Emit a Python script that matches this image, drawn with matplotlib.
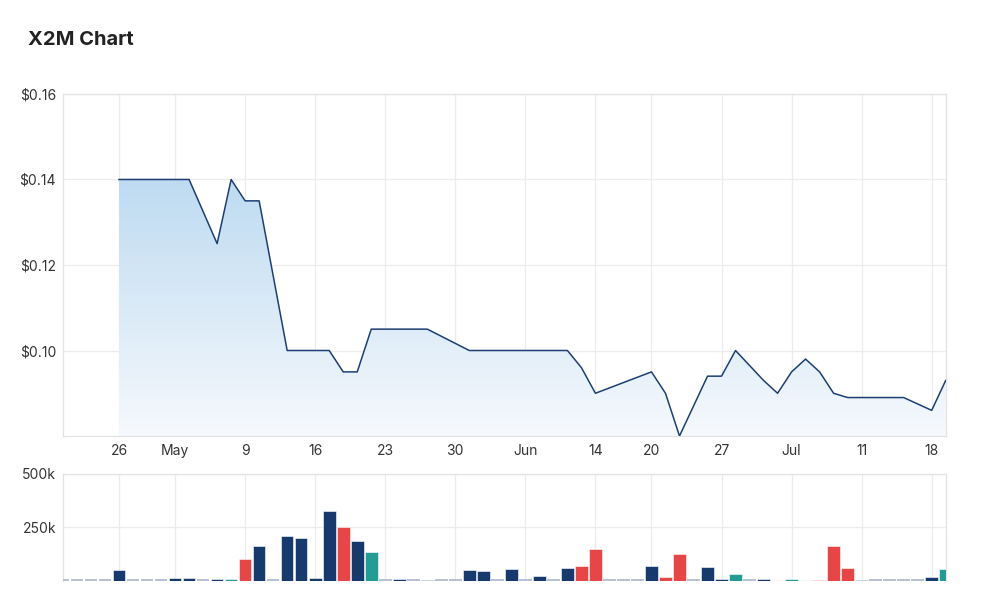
import matplotlib
matplotlib.use('Agg')
import matplotlib.pyplot as plt
import numpy as np
import pandas as pd
from matplotlib.colors import LinearSegmentedColormap
from matplotlib.patches import Polygon

plt.rcParams['font.family'] = ['Inter', 'DejaVu Sans']

# ---------------- data ----------------
trading_days = pd.bdate_range('2022-04-19', '2022-07-19')
holidays = pd.to_datetime(['2022-04-25', '2022-06-13'])
dates = trading_days.difference(holidays)

N = None
price = [N, N, N, N,
         0.14, 0.14, 0.14, 0.14, 0.14, 0.14, N, 0.125, 0.14, 0.135,
         0.135, N, 0.10, 0.10, 0.10, 0.10, 0.095, 0.095, 0.105, 0.105,
         0.105, 0.105, 0.105, N, N, 0.10, 0.10, 0.10, 0.10, 0.10,
         0.10, 0.10, 0.10, 0.096, 0.09, N, N, N, 0.095, 0.09,
         0.08, N, 0.094, 0.094, 0.10, N, 0.093, 0.09, 0.095, 0.098,
         0.095, 0.09, 0.089, 0.089, 0.089, 0.089, 0.089, N, 0.086, 0.093]

volume = [0, 0, 0, 0,
          52000, 0, 0, 0, 16000, 16000, 0, 11000, 11000, 105000,
          162000, 0, 212000, 203000, 16000, 329000, 253000, 189000, 134000, 0,
          11000, 0, 6000, 0, 0, 50000, 46000, 0, 57000, 0,
          25000, 0, 61000, 72000, 148000, 0, 0, 0, 72000, 20000,
          126000, 0, 66000, 11000, 35000, 0, 11000, 4000, 11000, 4000,
          6000, 162000, 61000, 6000, 0, 0, 0, 0, 20000, 57000]

bar_kind = ['z', 'z', 'z', 'z',
            'n', 'z', 'z', 'z', 'n', 'n', 'z', 'n', 't', 'r',
            'n', 'z', 'n', 'n', 'n', 'n', 'r', 'n', 't', 'z',
            'n', 'z', 'n', 'z', 'z', 'n', 'n', 'z', 'n', 'z',
            'n', 'z', 'n', 'r', 'r', 'z', 'z', 'z', 'n', 'r',
            'r', 'z', 'n', 'n', 't', 'z', 'n', 'p', 't', 'c',
            'r', 'r', 'r', 'n', 'z', 'z', 'z', 'z', 'n', 't']

tick_dates = ['2022-04-26', '2022-05-02', '2022-05-09', '2022-05-16', '2022-05-23',
              '2022-05-30', '2022-06-06', '2022-06-14', '2022-06-20', '2022-06-27',
              '2022-07-04', '2022-07-11', '2022-07-18']
tick_labels = ['26', 'May', '9', '16', '23', '30', 'Jun', '14', '20', '27', 'Jul', '11', '18']
price_ticks = [0.10, 0.12, 0.14, 0.16]
price_tick_labels = ['$0.10', '$0.12', '$0.14', '$0.16']
volume_ticks = [250000, 500000]
volume_tick_labels = ['250k', '500k']

# ---------------- style ----------------
kind_colors = {'n': '#163a6e', 'r': '#e84646', 't': '#239d93',
               'z': '#b9c2d4', 'p': '#f6c3c3', 'c': '#b4dedf'}
ZERO_STUB = 8000
LINE_COLOR = '#1e3f73'
GRID = '#ececec'
SPINE = '#e3e3e3'
TEXT = '#333333'

x = np.arange(len(dates))
p = np.array([np.nan if v is None else v for v in price], dtype=float)
vol = np.array(volume, dtype=float)
tick_pos = dates.get_indexer(pd.to_datetime(tick_dates))

fig = plt.figure(figsize=(10, 6.13), dpi=100)
ax = fig.add_axes([0.063, 0.2887, 0.8827, 0.558])
axv = fig.add_axes([0.063, 0.0522, 0.8827, 0.1746])

x0, x1 = 0, len(dates) - 1
# ---------------- price ----------------
valid = ~np.isnan(p)
xv, pv = x[valid], p[valid]

cmap = LinearSegmentedColormap.from_list('g', ['#f6f9fd', '#bedbf1'])
grad = np.linspace(0, 1, 256).reshape(-1, 1)
img = ax.imshow(grad, extent=[x0, x1, 0.08, 0.14], origin='lower', aspect='auto',
                cmap=cmap, zorder=1, interpolation='bilinear')
verts = [(xv[0], 0.08)] + list(zip(xv, pv)) + [(xv[-1], 0.08)]
poly = Polygon(verts, closed=True, facecolor='none', edgecolor='none',
               transform=ax.transData)
ax.add_patch(poly)
img.set_clip_path(poly)
ax.plot(xv, pv, color=LINE_COLOR, lw=1.1, zorder=3)
ax.set_xlim(x0, x1)
ax.set_ylim(0.08, 0.16)

ax.set_yticks(price_ticks)
ax.set_yticklabels(price_tick_labels)
ax.set_xticks(tick_pos)
ax.set_xticklabels(tick_labels)

# ---------------- volume ----------------
colors = np.array([kind_colors[k] for k in bar_kind])
zero = vol <= 0
axv.bar(x[zero], np.full(zero.sum(), ZERO_STUB), width=0.9, color=colors[zero],
        linewidth=0, zorder=3)
axv.bar(x[~zero], vol[~zero], width=0.9, color=colors[~zero], edgecolor='white',
        linewidth=0.4, zorder=3)
axv.set_xlim(x0, x1)
axv.set_ylim(0, 500000)
axv.set_yticks(volume_ticks)
axv.set_yticklabels(volume_tick_labels)
axv.set_xticks(tick_pos)
axv.set_xticklabels([])

for a in (ax, axv):
    a.grid(True, color=GRID, lw=0.9, zorder=0)
    a.set_axisbelow(True)
    a.tick_params(length=0, colors=TEXT, labelsize=10)
    a.tick_params(axis='y', pad=5)
    a.tick_params(axis='x', pad=6)
    for s in a.spines.values():
        s.set_color(SPINE)
        s.set_linewidth(0.9)
axv.spines['bottom'].set_visible(False)

fig.text(0.028, 1 - 40 / 613, 'X2M Chart', fontsize=14.5, fontweight='bold',
         color='#222222', va='center', ha='left')

fig.savefig('out.png', dpi=100, facecolor='white')
